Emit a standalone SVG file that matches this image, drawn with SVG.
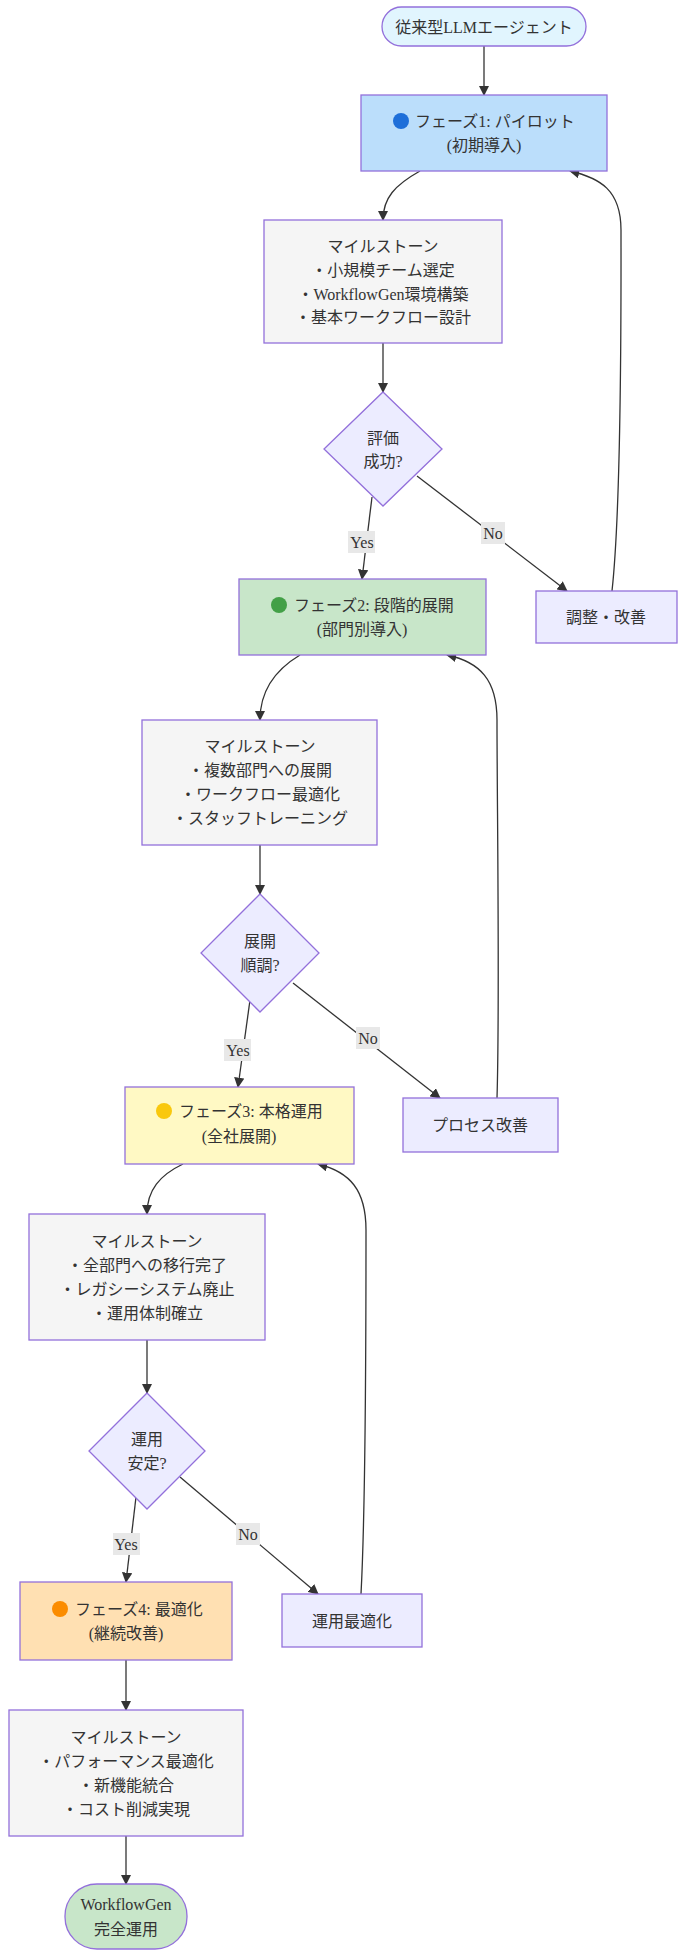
<svg xmlns="http://www.w3.org/2000/svg" width="680" height="1957" viewBox="0 0 680 1957">
<defs>
<marker id="ah" viewBox="0 0 10 10" refX="9" refY="5" markerWidth="8" markerHeight="8" orient="auto"><path d="M0,0L10,5L0,10z" fill="#333"/></marker>
<style>
text{font-family:"Liberation Serif","Noto Sans CJK JP",serif;font-size:16px;fill:#333;text-anchor:middle;dominant-baseline:central}
.n{stroke:#9370db;stroke-width:1.3}
.e{fill:none;stroke:#333;stroke-width:1.3;marker-end:url(#ah)}
.lb{fill:#e8e8e8}
.l{text-anchor:start}
</style>
</defs>
<rect width="680" height="1957" fill="#fff"/>
<g id="edges">
<path class="e" d="M484,46L484,95"/>
<path class="e" d="M420,171C395,185 383,198 383,220"/>
<path class="e" d="M383,343L383,392"/>
<path class="e" d="M372,497L362,579"/>
<path class="e" d="M417,476L567,591"/>
<path class="e" d="M612,591C622,500 621,300 621,230C621,190 600,178 570,171"/>
<path class="e" d="M300,655C275,670 260,690 260,720"/>
<path class="e" d="M260,845L260,894"/>
<path class="e" d="M250,1000L238,1087"/>
<path class="e" d="M293,983L440,1098"/>
<path class="e" d="M497,1098C500,1000 497,800 497,720C497,680 480,662 447,655"/>
<path class="e" d="M183,1164C160,1175 147,1190 147,1214"/>
<path class="e" d="M147,1340L147,1393"/>
<path class="e" d="M136,1497L126,1582"/>
<path class="e" d="M180,1477L318,1594"/>
<path class="e" d="M361,1594C366,1500 366,1300 366,1230C366,1190 350,1172 318,1164"/>
<path class="e" d="M126,1660L126,1710"/>
<path class="e" d="M126,1836L126,1884"/>
<rect class="lb" x="348" y="531" width="27" height="22"/><text x="362" y="542">Yes</text>
<rect class="lb" x="481" y="522" width="24" height="22"/><text x="493" y="533">No</text>
<rect class="lb" x="224" y="1039" width="27" height="22"/><text x="238" y="1050">Yes</text>
<rect class="lb" x="356" y="1027" width="24" height="22"/><text x="368" y="1038">No</text>
<rect class="lb" x="113" y="1533" width="27" height="22"/><text x="126" y="1544">Yes</text>
<rect class="lb" x="236" y="1523" width="24" height="22"/><text x="248" y="1534">No</text>
</g>
<g id="start"><rect class="n" x="382" y="7" width="204" height="39" rx="19.5" fill="#e1f5fe"/><text x="484" y="27">従来型LLMエージェント</text></g>
<g id="phase1"><rect class="n" x="361" y="95" width="246" height="76" fill="#bbdefb"/><circle cx="401" cy="121" r="8" fill="#1e6fd9"/><text class="l" x="415" y="121">フェーズ1: パイロット</text><text x="484" y="145">(初期導入)</text></g>
<g id="ms1"><rect class="n" x="264" y="220" width="238" height="123" fill="#f5f5f5"/><text x="383" y="246">マイルストーン</text><text x="383" y="270">・小規模チーム選定</text><text x="383" y="294">・WorkflowGen環境構築</text><text x="383" y="317">・基本ワークフロー設計</text></g>
<g id="d1"><polygon class="n" points="383,392 442,449 383,506 324,449" fill="#ececff"/><text x="383" y="438">評価</text><text x="383" y="461">成功?</text></g>
<g id="fix1"><rect class="n" x="536" y="591" width="141" height="52" fill="#ececff"/><text x="606" y="617">調整・改善</text></g>
<g id="phase2"><rect class="n" x="239" y="579" width="247" height="76" fill="#c8e6c9"/><circle cx="279" cy="605" r="8" fill="#43a047"/><text class="l" x="294" y="605">フェーズ2: 段階的展開</text><text x="362" y="629">(部門別導入)</text></g>
<g id="ms2"><rect class="n" x="142" y="720" width="235" height="125" fill="#f5f5f5"/><text x="260" y="746">マイルストーン</text><text x="260" y="770">・複数部門への展開</text><text x="260" y="794">・ワークフロー最適化</text><text x="260" y="818">・スタッフトレーニング</text></g>
<g id="d2"><polygon class="n" points="260,894 319,953 260,1012 201,953" fill="#ececff"/><text x="260" y="941">展開</text><text x="260" y="965">順調?</text></g>
<g id="fix2"><rect class="n" x="403" y="1098" width="155" height="54" fill="#ececff"/><text x="480" y="1125">プロセス改善</text></g>
<g id="phase3"><rect class="n" x="125" y="1087" width="229" height="77" fill="#fff9c4"/><circle cx="164" cy="1111" r="8" fill="#f9c80e"/><text class="l" x="179" y="1111">フェーズ3: 本格運用</text><text x="239" y="1136">(全社展開)</text></g>
<g id="ms3"><rect class="n" x="29" y="1214" width="236" height="126" fill="#f5f5f5"/><text x="147" y="1241">マイルストーン</text><text x="147" y="1265">・全部門への移行完了</text><text x="147" y="1289">・レガシーシステム廃止</text><text x="147" y="1313">・運用体制確立</text></g>
<g id="d3"><polygon class="n" points="147,1393 205,1451 147,1509 89,1451" fill="#ececff"/><text x="147" y="1439">運用</text><text x="147" y="1463">安定?</text></g>
<g id="fix3"><rect class="n" x="282" y="1594" width="140" height="53" fill="#ececff"/><text x="352" y="1621">運用最適化</text></g>
<g id="phase4"><rect class="n" x="20" y="1582" width="212" height="78" fill="#ffe0b2"/><circle cx="60" cy="1609" r="8" fill="#fb8c00"/><text class="l" x="75" y="1609">フェーズ4: 最適化</text><text x="126" y="1633">(継続改善)</text></g>
<g id="ms4"><rect class="n" x="9" y="1710" width="234" height="126" fill="#f5f5f5"/><text x="126" y="1737">マイルストーン</text><text x="126" y="1761">・パフォーマンス最適化</text><text x="126" y="1785">・新機能統合</text><text x="126" y="1809">・コスト削減実現</text></g>
<g id="end"><rect class="n" x="65" y="1884" width="122" height="65" rx="32" fill="#c8e6c9"/><text x="126" y="1904">WorkflowGen</text><text x="126" y="1929">完全運用</text></g>
</svg>
